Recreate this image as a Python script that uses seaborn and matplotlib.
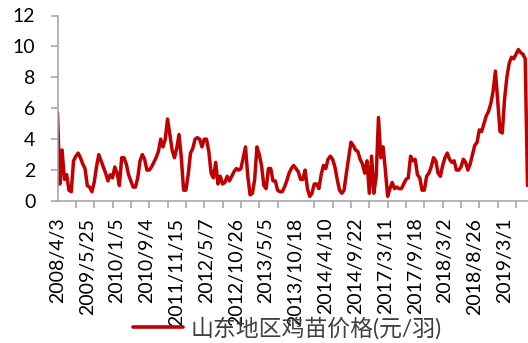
import numpy as np
import pandas as pd
import matplotlib
matplotlib.use("Agg")
import matplotlib.pyplot as plt
from matplotlib.ticker import FixedLocator, NullFormatter
import seaborn as sns

# Shandong chick price (yuan per chick), one value per category slot
price = [
    5.7, 1.1, 3.3, 1.4, 1.7, 0.7, 0.6, 2.6, 2.9, 3.1,
    2.8, 2.4, 2.1, 1.0, 0.9, 0.6, 1.2, 2.2, 3.0, 2.6,
    2.2, 1.8, 1.3, 1.7, 1.5, 2.2, 1.8, 1.0, 2.8, 2.8,
    2.4, 1.7, 1.3, 0.9, 0.9, 1.5, 2.6, 3.0, 2.7, 2.0,
    2.0, 2.2, 2.5, 2.8, 3.2, 4.0, 3.5, 4.0, 5.3, 4.3,
    3.3, 2.8, 3.4, 4.3, 2.8, 0.7, 0.7, 1.7, 3.1, 3.4,
    4.0, 4.1, 4.0, 3.5, 4.0, 4.0, 3.2, 1.8, 1.5, 2.5,
    1.1, 1.6, 1.1, 1.2, 1.6, 1.3, 1.6, 1.9, 2.1, 2.0,
    2.1, 2.8, 3.5, 1.6, 0.4, 0.5, 1.4, 3.5, 3.0, 2.3,
    1.0, 0.8, 2.1, 2.1, 1.3, 1.3, 0.7, 0.6, 0.6, 0.9,
    1.3, 1.8, 2.1, 2.3, 2.1, 1.9, 1.4, 1.4, 2.0, 0.8,
    0.3, 0.5, 1.1, 1.1, 0.8, 1.7, 2.3, 2.1, 2.7, 2.9,
    2.7, 2.2, 1.4, 0.7, 0.5, 0.7, 1.8, 2.8, 3.8, 3.6,
    3.3, 3.2, 2.7, 2.4, 1.8, 2.6, 0.5, 2.9, 0.5, 1.6,
    5.4, 2.8, 3.5, 2.0, 0.3, 0.8, 1.2, 0.8, 0.9, 0.8,
    0.8, 1.1, 1.4, 1.5, 2.9, 2.6, 2.7, 1.7, 1.5, 0.7,
    0.7, 1.6, 1.8, 2.2, 2.8, 2.6, 1.8, 1.6, 2.3, 2.8,
    3.1, 2.7, 2.5, 2.6, 2.0, 2.0, 2.2, 2.7, 2.5, 2.0,
    2.4, 3.0, 3.6, 3.8, 4.6, 4.5, 5.0, 5.5, 5.8, 6.3,
    7.1, 8.4, 6.5, 4.5, 4.4, 6.6, 8.0, 8.9, 9.3, 9.2,
    9.5, 9.8, 9.6, 9.5, 9.2, 1.0,
]

date_labels = [
    "2008/4/3", "2009/5/25", "2010/1/5", "2010/9/4", "2011/11/15",
    "2012/5/7", "2012/10/26", "2013/5/5", "2013/10/18", "2014/4/10",
    "2014/9/22", "2017/3/11", "2017/9/18", "2018/3/2", "2018/8/26",
    "2019/3/1",
]
series_name = "山东地区鸡苗价格(元/羽)"

label_step = 13   # categories between date labels
mark_step = 8     # categories between tick marks

sns.set_style("white")
plt.rcParams["font.family"] = ["Lato", "Noto Sans CJK SC", "DejaVu Sans"]

df = pd.DataFrame({"idx": np.arange(len(price)), "price": price})

fig = plt.figure(figsize=(5.28, 3.43), dpi=100)
ax = fig.add_axes([57.5 / 528, 1 - 201 / 343, 470 / 528, 185.5 / 343])

sns.lineplot(data=df, x="idx", y="price", ax=ax, color="#C00000",
             linewidth=2.5, label=series_name, legend=False)

ax.set_xlim(0, len(price) - 1)
ax.set_ylim(0, 12)
ax.set_yticks(np.arange(0, 13, 2))
ax.set_xlabel("")
ax.set_ylabel("")

axis_grey = "#A0A0A0"
for side in ("top", "right"):
    ax.spines[side].set_visible(False)
for side in ("left", "bottom"):
    ax.spines[side].set_color(axis_grey)
    ax.spines[side].set_linewidth(1.1)

# date labels every label_step categories, tick marks every mark_step
ax.xaxis.set_major_locator(FixedLocator(np.arange(0, len(price), label_step)[:len(date_labels)]))
ax.set_xticklabels(date_labels, rotation=90, fontsize=14, color="black",
                   ha="center", va="top")
ax.xaxis.set_minor_locator(FixedLocator(np.arange(0, len(price), mark_step)))
ax.xaxis.set_minor_formatter(NullFormatter())
ax.tick_params(axis="x", which="major", length=0, pad=12)
ax.tick_params(axis="x", which="minor", length=5, width=1.1, color=axis_grey,
               direction="out", bottom=True)
ax.tick_params(axis="y", which="major", length=5, width=1.1, color=axis_grey,
               direction="out", left=True, labelsize=14, labelcolor="black", pad=11)

handle = plt.Line2D([], [], color="#C00000", linewidth=2.6)
fig.legend([handle], [series_name], loc="center",
           bbox_to_anchor=(287 / 528, 1 - 328 / 343), frameon=False,
           fontsize=16.5, labelcolor="#404040", handlelength=2.2,
           handletextpad=0.3, borderpad=0)

fig.savefig("out.png", dpi=100)
